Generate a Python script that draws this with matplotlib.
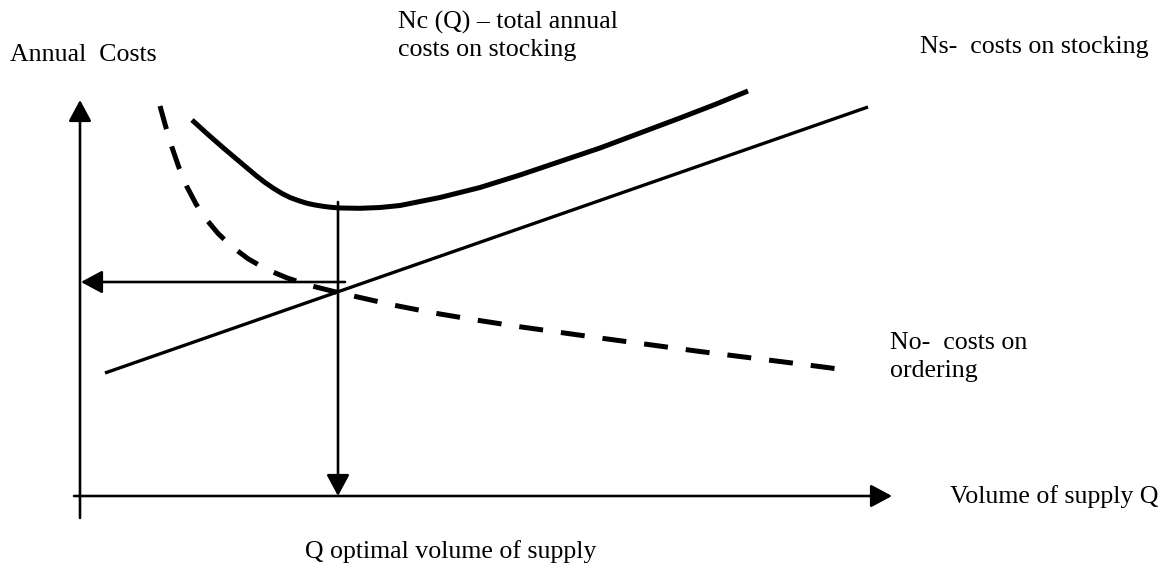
import matplotlib
matplotlib.use("Agg")
import matplotlib.pyplot as plt

# Curves (schematic coordinates, y downward)
ns_x = [105, 868]
ns_y = [373, 107]

no_x = [160, 166, 172, 179, 187, 196, 206, 218, 232, 248, 266, 287, 310, 335, 360,
        393, 434, 476, 518, 600, 700, 800, 850]
no_y = [106, 127.6, 147.4, 167.7, 186.9, 204, 219, 233.4, 246.7, 258.7, 269.1, 277.9,
        285.5, 291.8, 297.5, 305, 313, 320, 326.5, 338, 351.5, 364, 370.5]

nc_x = [192, 208, 224, 240, 256, 265, 273, 282, 290, 299, 307, 315, 323, 331, 340,
        360, 380, 400, 440, 480, 520, 560, 600, 640, 680, 715, 748]
nc_y = [120, 134.5, 148.5, 162, 175.5, 182.5, 188, 193.5, 197.5, 200.8, 203.3, 205,
        206.3, 207.3, 208, 208.3, 207.5, 205.5, 197.5, 187.5, 175, 161.5, 148, 133,
        118, 104.5, 91]

q_opt = 338
cost_opt = 282

labels = {
    "y": "Annual  Costs",
    "x": "Volume of supply Q",
    "nc": "Nc (Q) – total annual\ncosts on stocking",
    "ns": "Ns-  costs on stocking",
    "no": "No-  costs on\nordering",
    "q": "Q optimal volume of supply",
}

fig = plt.figure(figsize=(11.68, 5.69), dpi=100)
ax = fig.add_axes([0, 0, 1, 1])
ax.set_xlim(0, 1168)
ax.set_ylim(569, 0)
ax.axis("off")

k = 0.72  # px -> pt
arrow_kw = dict(arrowstyle="-|>,head_length=1.3,head_width=0.7", color="black", lw=2.6 * k,
                shrinkA=0, shrinkB=0)
# axes
ax.annotate("", xy=(80, 100), xytext=(80, 518), arrowprops=arrow_kw)
ax.annotate("", xy=(892, 496), xytext=(74, 496), arrowprops=arrow_kw)
# optimum arrows
ax.annotate("", xy=(q_opt, 496), xytext=(q_opt, 202), arrowprops=arrow_kw)
ax.annotate("", xy=(81, cost_opt), xytext=(345, cost_opt), arrowprops=arrow_kw)

ax.plot(ns_x, ns_y, color="black", lw=3.3 * k, solid_capstyle="butt")
ax.plot(no_x, no_y, color="black", lw=5.0 * k, linestyle=(0, (4.8, 3.6)), dash_capstyle="butt")
ax.plot(nc_x, nc_y, color="black", lw=5.0 * k, solid_capstyle="butt", solid_joinstyle="round")

fam = ["Liberation Serif", "DejaVu Serif"]
fs = 18.6
ax.text(10, 55, labels["y"], fontsize=fs, family=fam, va="center", ha="left")
ax.text(398, 36, labels["nc"], fontsize=fs, family=fam, va="center", ha="left", linespacing=1.3)
ax.text(920, 47, labels["ns"], fontsize=fs, family=fam, va="center", ha="left")
ax.text(890, 357, labels["no"], fontsize=fs, family=fam, va="center", ha="left", linespacing=1.3)
ax.text(950, 497, labels["x"], fontsize=fs, family=fam, va="center", ha="left")
ax.text(305, 552, labels["q"], fontsize=fs, family=fam, va="center", ha="left")

fig.savefig("out.png", dpi=100)
